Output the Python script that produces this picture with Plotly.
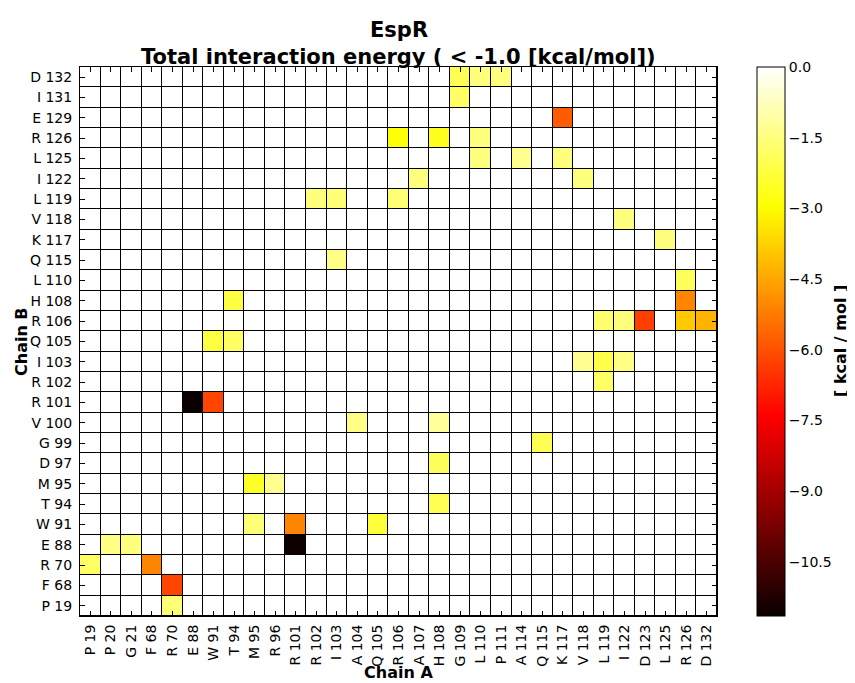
import plotly.graph_objects as go

# Chain A residues (x axis, left to right)
chain_a = ["P 19", "P 20", "G 21", "F 68", "R 70", "E 88", "W 91", "T 94", "M 95", "R 96",
           "R 101", "R 102", "I 103", "A 104", "Q 105", "R 106", "A 107", "H 108", "G 109",
           "L 110", "P 111", "A 114", "Q 115", "K 117", "V 118", "L 119", "I 122", "D 123",
           "L 125", "R 126", "D 132"]

# Chain B residues (y axis, bottom to top)
chain_b = ["P 19", "F 68", "R 70", "E 88", "W 91", "T 94", "M 95", "D 97", "G 99", "V 100",
           "R 101", "R 102", "I 103", "Q 105", "R 106", "H 108", "L 110", "Q 115", "K 117",
           "V 118", "L 119", "I 122", "L 125", "R 126", "E 129", "I 131", "D 132"]

# Interacting pairs (chain B residue, chain A residue, energy kcal/mol)
pair_b = ["D 132", "D 132", "D 132", "I 131", "E 129", "R 126", "R 126", "R 126",
          "L 125", "L 125", "L 125", "I 122", "I 122", "L 119", "L 119", "L 119",
          "V 118", "K 117", "Q 115", "L 110", "H 108", "H 108",
          "R 106", "R 106", "R 106", "R 106", "R 106", "Q 105", "Q 105",
          "I 103", "I 103", "I 103", "R 102", "R 101", "R 101", "V 100", "V 100",
          "G 99", "D 97", "M 95", "M 95", "T 94", "W 91", "W 91", "W 91",
          "E 88", "E 88", "E 88", "R 70", "R 70", "F 68", "P 19"]
pair_a = ["G 109", "L 110", "P 111", "G 109", "K 117", "R 106", "H 108", "L 110",
          "L 110", "A 114", "K 117", "A 107", "V 118", "R 102", "I 103", "R 106",
          "I 122", "L 125", "I 103", "R 126", "T 94", "R 126",
          "L 119", "I 122", "D 123", "R 126", "D 132", "W 91", "T 94",
          "V 118", "L 119", "I 122", "L 119", "E 88", "W 91", "A 104", "H 108",
          "Q 115", "H 108", "M 95", "R 96", "H 108", "M 95", "R 101", "Q 105",
          "P 20", "G 21", "R 101", "P 19", "F 68", "R 70", "R 70"]
energy = [-2.0, -1.5, -1.5, -1.8, -5.8, -2.9, -2.6, -1.5,
          -1.5, -1.3, -1.5, -1.5, -1.5, -1.5, -1.6, -1.6,
          -1.5, -1.5, -1.4, -1.9, -2.2, -5.1,
          -1.7, -1.5, -6.3, -3.9, -4.3, -2.2, -1.8,
          -1.3, -2.1, -1.4, -1.8, -11.65, -6.2, -1.4, -1.2,
          -2.0, -1.9, -2.5, -1.3, -2.0, -1.6, -5.1, -2.3,
          -1.4, -1.5, -11.6, -1.8, -5.1, -6.2, -1.6]

cbar_ticks = [0.0, -1.5, -3.0, -4.5, -6.0, -7.5, -9.0, -10.5]

z = [[0.0 for _ in chain_a] for _ in chain_b]
for b, a, e in zip(pair_b, pair_a, energy):
    z[chain_b.index(b)][chain_a.index(a)] = e

hot = [[0.0, "rgb(10,0,0)"], [0.365, "rgb(255,0,0)"],
       [0.746, "rgb(255,255,0)"], [1.0, "rgb(255,255,255)"]]

FONT = "DejaVu Sans"
OFF = 8  # page body margin of the html page
W, H = 855 - OFF, 683 - OFF
L, R, T, B = 80 - OFF, 717 - OFF, 67 - OFF, 616 - OFF
PW, PH = R - L, B - T


def px(x):
    return (x - OFF - L) / PW


def py(y):
    return (B - (y - OFF)) / PH


fig = go.Figure(go.Heatmap(
    z=z, x=chain_a, y=chain_b,
    colorscale=hot, zmin=min(energy), zmax=0,
    xgap=1, ygap=1,
    colorbar=dict(
        x=px(757), xanchor="left", y=0.5, yanchor="middle",
        len=1, lenmode="fraction", thickness=28, thicknessmode="pixels",
        xpad=0, ypad=0,
        outlinewidth=1, outlinecolor="black",
        tickvals=cbar_ticks, tickformat=".1f", ticks="",
        tickfont=dict(family=FONT, size=14, color="black"),
    ),
))

ann = [
    dict(text="<b>EspR</b>", x=px(399), y=py(30.5), size=21),
    dict(text="<b>Total interaction energy ( &lt; -1.0 [kcal/mol])</b>",
         x=px(399), y=py(56.5), size=21),
    dict(text="<b>Chain A</b>", x=px(398.5), y=py(672.5), size=16),
    dict(text="<b>Chain B</b>", x=px(21), y=py(342), size=16, angle=-90),
    dict(text="<b>[ kcal / mol ]</b>", x=px(840), y=py(341), size=16, angle=-90),
]

fig.update_layout(
    width=W, height=H,
    margin=dict(l=L, r=W - R, t=T, b=H - B),
    paper_bgcolor="white", plot_bgcolor="black",
    font=dict(family=FONT, color="black"),
    annotations=[dict(
        text=a["text"], textangle=a.get("angle", 0),
        xref="paper", yref="paper", x=a["x"], y=a["y"],
        xanchor="center", yanchor="middle", showarrow=False,
        font=dict(family=FONT, size=a["size"], color="black"),
    ) for a in ann],
)

fig.update_xaxes(
    type="category", tickangle=-90, ticks="inside", ticklen=5, tickcolor="black",
    showline=True, linecolor="black", linewidth=1, mirror="ticks",
    showgrid=False, zeroline=False, automargin=False, ticklabelstandoff=2,
    tickfont=dict(family=FONT, size=14, color="black"),
)
fig.update_yaxes(
    type="category", ticks="inside", ticklen=5, tickcolor="black",
    showline=True, linecolor="black", linewidth=1, mirror="ticks",
    showgrid=False, zeroline=False, automargin=False, ticklabelstandoff=4,
    tickfont=dict(family=FONT, size=14, color="black"),
)

fig.write_html("out.html")
